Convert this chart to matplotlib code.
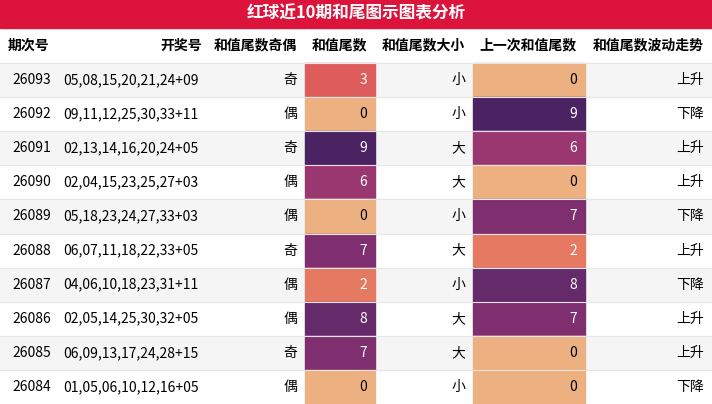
import matplotlib
matplotlib.use('Agg')
import matplotlib.pyplot as plt
from matplotlib.patches import Rectangle
import seaborn as sns

plt.rcParams['font.family'] = ['Noto Sans CJK SC', 'DejaVu Sans']

title = '红球近10期和尾图示图表分析'
headers = ['期次号', '开奖号', '和值尾数奇偶', '和值尾数', '和值尾数大小', '上一次和值尾数', '和值尾数波动走势']
issues = ['26093', '26092', '26091', '26090', '26089', '26088', '26087', '26086', '26085', '26084']
numbers = ['05,08,15,20,21,24+09', '09,11,12,25,30,33+11', '02,13,14,16,20,24+05',
           '02,04,15,23,25,27+03', '05,18,23,24,27,33+03', '06,07,11,18,22,33+05',
           '04,06,10,18,23,31+11', '02,05,14,25,30,32+05', '06,09,13,17,24,28+15',
           '01,05,06,10,12,16+05']
parity = ['奇', '偶', '奇', '偶', '偶', '奇', '偶', '偶', '奇', '偶']
tail = [3, 0, 9, 6, 0, 7, 2, 8, 7, 0]
size = ['小', '小', '大', '大', '小', '大', '小', '大', '大', '小']
prev_tail = [0, 9, 6, 0, 7, 2, 8, 7, 0, 0]
trend = ['上升', '下降', '上升', '上升', '下降', '上升', '下降', '上升', '上升', '下降']

W, H = 712, 404
col_edges = [0, 55, 210, 305, 375, 473, 585, 712]
title_h = 28
head_h = 35
row_h = (H - title_h - head_h) / len(issues)

cmap = sns.color_palette('flare', as_cmap=True)
norm = matplotlib.colors.Normalize(0, 9)

fig = plt.figure(figsize=(W / 100, H / 100), dpi=100)
ax = fig.add_axes([0, 0, 1, 1])
ax.set_xlim(0, W)
ax.set_ylim(H, 0)
ax.axis('off')

ax.add_patch(Rectangle((0, 0), W, title_h, color='#dc143c'))
ax.text(W / 2, title_h / 2, title, color='white', fontsize=12, fontweight='bold', ha='center', va='center')

yh = title_h + head_h / 2
for i, h in enumerate(headers):
    if i == 0:
        ax.text(8, yh, h, fontsize=10, fontweight='bold', ha='left', va='center')
    else:
        ax.text(col_edges[i + 1] - 8, yh, h, fontsize=10, fontweight='bold', ha='right', va='center')

for r in range(len(issues)):
    y0 = title_h + head_h + r * row_h
    yc = y0 + row_h / 2
    if r % 2 == 0:
        ax.add_patch(Rectangle((0, y0), W, row_h, color='#f5f5f5'))
    ax.axhline(y0, color='#e6e6e6', lw=0.8)
    for ci, v in ((3, tail[r]), (5, prev_tail[r])):
        ax.add_patch(Rectangle((col_edges[ci], y0), col_edges[ci + 1] - col_edges[ci], row_h,
                               color=cmap(norm(v))))
    ax.text(12, yc, issues[r], fontsize=10, ha='left', va='center')
    ax.text(63, yc, numbers[r], fontsize=10, ha='left', va='center')
    ax.text(col_edges[3] - 8, yc, parity[r], fontsize=10, ha='right', va='center')
    ax.text(col_edges[4] - 8, yc, str(tail[r]), fontsize=10, ha='right', va='center',
            color='black' if tail[r] == 0 else 'white')
    ax.text(col_edges[5] - 8, yc, size[r], fontsize=10, ha='right', va='center')
    ax.text(col_edges[6] - 8, yc, str(prev_tail[r]), fontsize=10, ha='right', va='center',
            color='black' if prev_tail[r] == 0 else 'white')
    ax.text(col_edges[7] - 8, yc, trend[r], fontsize=10, ha='right', va='center')

fig.savefig('out.png', dpi=100)
